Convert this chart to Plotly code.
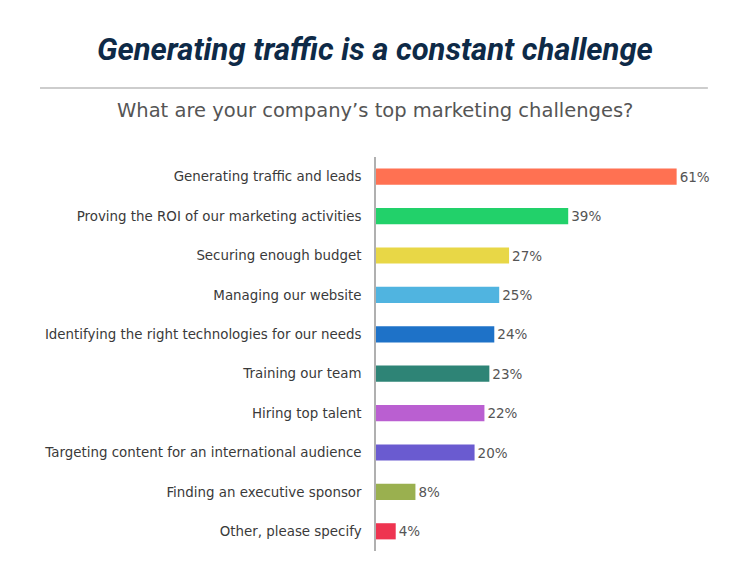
import plotly.graph_objects as go

# Survey data
challenges = [
    "Generating traffic and leads",
    "Proving the ROI of our marketing activities",
    "Securing enough budget",
    "Managing our website",
    "Identifying the right technologies for our needs",
    "Training our team",
    "Hiring top talent",
    "Targeting content for an international audience",
    "Finding an executive sponsor",
    "Other, please specify",
]
percent = [61, 39, 27, 25, 24, 23, 22, 20, 8, 4]
bar_colors = ["#FF7152", "#22D16A", "#E8D746", "#50B4E0", "#1E72C8",
              "#2E8476", "#BA5FD1", "#6A5BD0", "#9AB04F", "#EE3450"]

fig = go.Figure(go.Bar(
    x=percent, y=challenges, orientation="h",
    marker=dict(color=bar_colors, line=dict(width=0)),
    width=0.41,
    text=[f"{v}%" for v in percent], textposition="outside",
    textfont=dict(family="DejaVu Sans", size=13.5, color="#555555"),
    cliponaxis=False,
))

# the page body has an 8px margin, so margins are shifted to compensate
fig.update_layout(
    width=750, height=582,
    margin=dict(l=368, r=37, t=149, b=39),
    plot_bgcolor="white", paper_bgcolor="white",
    showlegend=False,
    xaxis=dict(range=[0, 70], visible=False),
    yaxis=dict(autorange="reversed", showline=True, linecolor="#b0b0b0", linewidth=1.5,
               showgrid=False, ticks="", ticklabelstandoff=10,
               tickfont=dict(family="DejaVu Sans", size=13.4, color="#3a3a3a")),
)

# headline, rule and question
fig.add_annotation(text="Generating traffic is a constant challenge", xref="paper", yref="paper",
                   x=-0.003, y=1.272, xanchor="center", yanchor="middle", showarrow=False,
                   font=dict(family="Roboto", size=31, color="#0E2A47",
                             style="italic", weight="bold"))
fig.add_shape(type="line", xref="paper", yref="paper", x0=-0.974, x1=0.962, y0=1.175, y1=1.175,
              line=dict(color="#bdbdbd", width=1.5))
fig.add_annotation(text="What are your company\u2019s top marketing challenges?", xref="paper", yref="paper",
                   x=-0.003, y=1.119, xanchor="center", yanchor="middle", showarrow=False,
                   font=dict(family="DejaVu Sans", size=19.5, color="#555555"))

fig.write_html("out.html")
